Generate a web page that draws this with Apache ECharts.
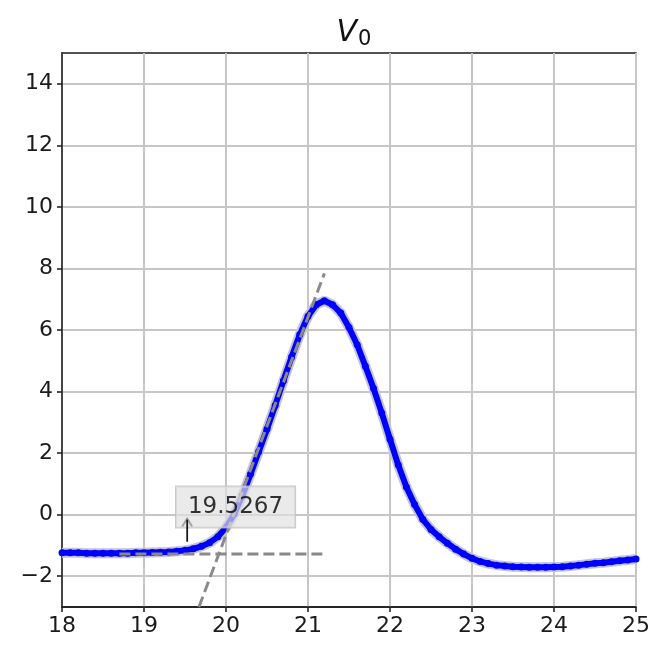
<!DOCTYPE html>
<html>
<head>
<meta charset="utf-8">
<script src="https://cdn.jsdelivr.net/npm/echarts@6/dist/echarts.min.js"></script>
<style>
  html, body { margin: 0; padding: 0; background: #fff; }
  #chart { width: 654px; height: 646px; }
</style>
</head>
<body>
<div id="chart"></div>
<script>
// Measured signal V0 (x, value)
const xs = [18.0, 18.1, 18.2, 18.3, 18.4, 18.5, 18.6, 18.7, 18.8, 18.9,
            19.0, 19.1, 19.2, 19.3, 19.4, 19.5, 19.6, 19.7, 19.8, 19.9,
            20.0, 20.1, 20.2, 20.3, 20.4, 20.5, 20.6, 20.7, 20.8, 20.9,
            21.0, 21.1, 21.2, 21.3, 21.4, 21.5, 21.6, 21.7, 21.8, 21.9,
            22.0, 22.1, 22.2, 22.3, 22.4, 22.5, 22.6, 22.7, 22.8, 22.9,
            23.0, 23.1, 23.2, 23.3, 23.4, 23.5, 23.6, 23.7, 23.8, 23.9,
            24.0, 24.1, 24.2, 24.3, 24.4, 24.5, 24.6, 24.7, 24.8, 24.9, 25.0];
const v0 = [-1.24, -1.24, -1.24, -1.25, -1.25, -1.25, -1.25, -1.25, -1.25, -1.24,
            -1.24, -1.23, -1.22, -1.21, -1.19, -1.16, -1.11, -1.03, -0.91, -0.72,
            -0.42, 0.02, 0.62, 1.32, 2.05, 2.78, 3.55, 4.35, 5.12, 5.85,
            6.45, 6.82, 6.95, 6.82, 6.55, 6.08, 5.52, 4.82, 4.10, 3.30,
            2.45, 1.62, 0.90, 0.33, -0.15, -0.48, -0.72, -0.93, -1.12, -1.28,
            -1.42, -1.52, -1.59, -1.64, -1.67, -1.69, -1.70, -1.71, -1.71, -1.71,
            -1.70, -1.69, -1.67, -1.64, -1.61, -1.58, -1.56, -1.53, -1.50, -1.47, -1.44];

// Onset construction: tangent at steepest rise and baseline level
const tangentX = [19.67, 21.2];
const tangentY = [-3.0, 7.84];
const baselineX = [18.7, 21.2];
const baselineY = [-1.28, -1.28];

// Onset annotation
const onsetX = 19.5267;
const onsetLabel = '19.5267';
const arrowY = [-0.88, -0.16];
const boxAnchor = [19.39, 0.25];

// Axis ticks
const xTicks = [18, 19, 20, 21, 22, 23, 24, 25];
const yTicks = [-2, 0, 2, 4, 6, 8, 10, 12, 14];

const fontFamily = '"DejaVu Sans", sans-serif';
const minus = v => String(v).replace('-', '\u2212');

const curve = xs.map((x, i) => [x, v0[i]]);
const pairs = (a, b) => a.map((x, i) => [x, b[i]]);

const chart = echarts.init(document.getElementById('chart'), null, { renderer: 'canvas' });

const gridLine = { show: true, lineStyle: { color: '#c6c6c6', width: 2 } };
const dashed = { color: '#8a8a8a', width: 3, type: [11, 5] };

chart.setOption({
  animation: false,
  backgroundColor: '#ffffff',
  title: {
    text: '{v|V}{s|0}',
    left: 349,
    textAlign: 'center',
    top: 12,
    textStyle: {
      rich: {
        v: { fontFamily: fontFamily, fontStyle: 'italic', fontWeight: 'normal', fontSize: 30, color: '#111' },
        s: { fontFamily: fontFamily, fontWeight: 'normal', fontSize: 21, color: '#111', verticalAlign: 'bottom', padding: [12, 0, 0, 1] }
      }
    }
  },
  grid: {
    left: 62, right: 18, top: 53, bottom: 39,
    show: true, borderColor: '#1a1a1a', borderWidth: 1.5, backgroundColor: '#fff'
  },
  xAxis: {
    type: 'value', min: 18, max: 25, interval: 1,
    axisLine: { show: true, onZero: false, lineStyle: { color: '#1a1a1a', width: 1.5 } },
    axisTick: { show: true, length: 5, lineStyle: { color: '#1a1a1a', width: 1.5 } },
    axisLabel: { fontFamily: fontFamily, fontSize: 22, color: '#1a1a1a', margin: 8,
                 customValues: xTicks, formatter: minus },
    splitLine: gridLine
  },
  yAxis: {
    type: 'value', min: -3, max: 15,
    axisLine: { show: true, onZero: false, lineStyle: { color: '#1a1a1a', width: 1.5 } },
    axisTick: { show: true, length: 5, customValues: yTicks, lineStyle: { color: '#1a1a1a', width: 1.5 } },
    axisLabel: { fontFamily: fontFamily, fontSize: 22, color: '#1a1a1a', margin: 9,
                 customValues: yTicks, formatter: minus },
    splitLine: gridLine
  },
  series: [
    {
      // soft halo under the measured trace
      type: 'line', data: curve, showSymbol: false, silent: true, z: 2,
      lineStyle: { color: '#c4c4d4', width: 10 }
    },
    {
      type: 'line', data: curve, z: 3,
      symbol: 'circle', symbolSize: 7, showSymbol: true,
      itemStyle: { color: '#0000ff' },
      lineStyle: { color: '#0000ff', width: 6 }
    },
    {
      type: 'line', data: pairs(tangentX, tangentY), showSymbol: false, z: 4,
      lineStyle: dashed
    },
    {
      type: 'line', data: pairs(baselineX, baselineY), showSymbol: false, z: 4,
      lineStyle: dashed
    },
    {
      type: 'line', data: [[onsetX, arrowY[0]], [onsetX, arrowY[1]]], z: 6,
      showSymbol: false,
      lineStyle: { color: '#1a1a1a', width: 1.8 },
      markPoint: {
        symbol: 'path://M0,10 L6,0 L12,10', symbolSize: [10, 8], symbolOffset: [0, 3],
        itemStyle: { color: 'none', borderColor: '#1a1a1a', borderWidth: 1.8 },
        label: { show: false },
        data: [{ coord: [onsetX, arrowY[1]] }]
      }
    },
    {
      type: 'scatter', data: [boxAnchor], symbolSize: 0, z: 5,
      label: {
        show: true, position: 'right', distance: 0,
        formatter: onsetLabel,
        fontFamily: fontFamily, fontSize: 23, color: '#000',
        backgroundColor: 'rgba(224,224,224,0.85)',
        borderColor: '#bdbdbd', borderWidth: 1,
        padding: [9, 12, 9, 12]
      }
    }
  ]
});
</script>
</body>
</html>
